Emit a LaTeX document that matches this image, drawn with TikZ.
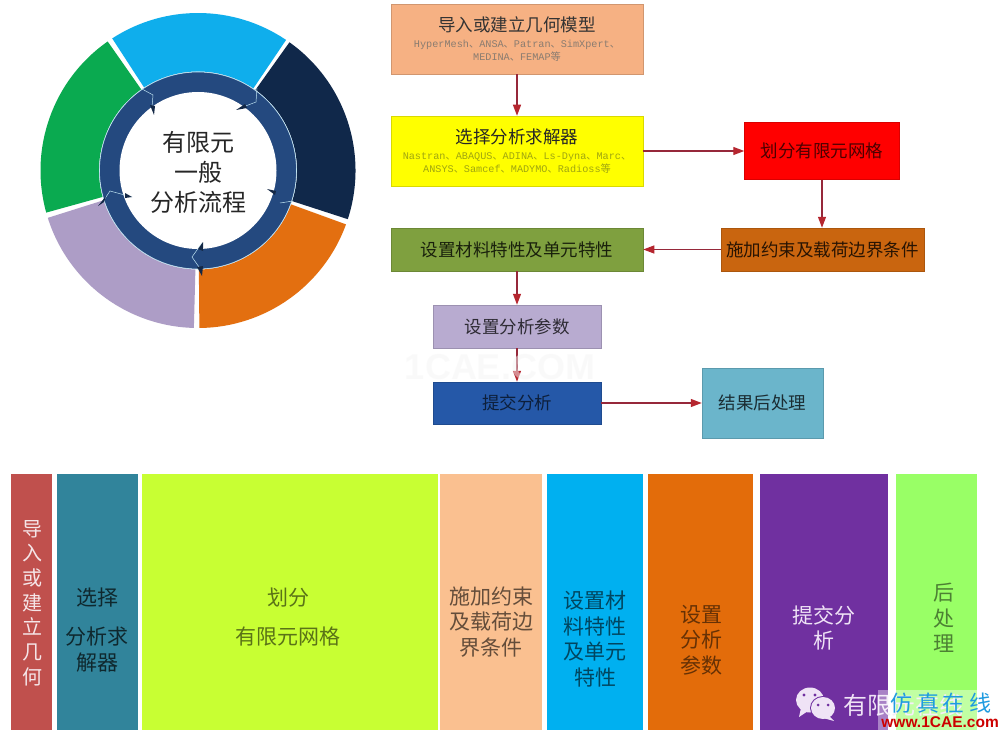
\documentclass[tikz,border=0pt]{standalone}
\usepackage{fontspec}
\setmainfont{Noto Sans CJK SC}
\newfontfamily\latinmono{Liberation Mono}
\newfontfamily\latinbold{Liberation Sans}
\usetikzlibrary{arrows.meta}
\definecolor{arrowred}{HTML}{96283A}
\definecolor{tipred}{HTML}{B5262F}
\definecolor{ringblue}{HTML}{24497F}
\definecolor{ringline}{HTML}{BFE3F2}
\definecolor{segblue}{HTML}{0FAEEC}
\definecolor{segnavy}{HTML}{10284A}
\definecolor{segorange}{HTML}{E36F10}
\definecolor{seglav}{HTML}{AD9DC6}
\definecolor{seggreen}{HTML}{0AAA50}
\definecolor{bxpeach}{HTML}{F6B183}
\definecolor{bxyellow}{HTML}{FFFF00}
\definecolor{bxred}{HTML}{FF0000}
\definecolor{bxorange}{HTML}{C9650F}
\definecolor{bxgreen}{HTML}{7FA03F}
\definecolor{bxlav}{HTML}{B8ABD0}
\definecolor{bxblue}{HTML}{2558A8}
\definecolor{bxteal}{HTML}{6BB5CB}
\definecolor{brred}{HTML}{C0504D}
\definecolor{brteal}{HTML}{31849B}
\definecolor{brlime}{HTML}{C8FF33}
\definecolor{brpeach}{HTML}{FAC090}
\definecolor{brcyan}{HTML}{00B0F0}
\definecolor{brorange}{HTML}{E36C0A}
\definecolor{brpurple}{HTML}{7030A0}
\definecolor{brgreen}{HTML}{99FF66}
\definecolor{wechat}{HTML}{EFE3F6}
\definecolor{subpeach}{HTML}{8A7C70}
\definecolor{subyellow}{HTML}{A0A610}
\definecolor{overblue}{HTML}{1E9BE0}
\newcommand{\dun}{{\rmfamily 、}}
\newcommand{\ml}[1]{{\latinmono #1}}
\newcommand{\subln}[2]{{\color{#1}\fontsize{10.2}{13}\selectfont #2}}
\newcommand{\segm}[3]{\fill[#3] (#1:157.5) arc[start angle=#1,end angle=#2,radius=157.5] -- (#2:99) arc[start angle=#2,end angle=#1,radius=99] -- cycle;}
\tikzset{
  flowbox/.style={draw=#1!85!black,line width=.5pt,fill=#1,inner sep=0pt,align=center,font=\fontsize{17.5}{22}\selectfont},
  barbox/.style={fill=#1,inner sep=0pt,minimum height=256pt},
  bartext/.style={inner sep=0pt,align=center,font=\fontsize{21}{25.5}\selectfont},
  link/.style={draw=arrowred,line width=1.2pt,-{Triangle[length=11pt,width=8pt,fill=tipred,color=tipred]}},
  chevron/.style={draw=ringline,line width=.5pt},
  chevtip/.style={fill=ringblue!55!black}
}
\begin{document}
\begin{tikzpicture}[x=1pt,y=1pt]
\useasboundingbox (0,-730) rectangle (1000,0);
\fill[white] (0,-730) rectangle (1000,0);
% ring diagram
\begin{scope}[shift={(198,-170.5)}]
\segm{56}{123}{segblue}
\segm{-18}{54.5}{segnavy}
\segm{-89.5}{-20}{segorange}
\segm{-162.5}{-91.5}{seglav}
\segm{125}{195.5}{seggreen}
\draw[ringline,line width=.6pt,fill=ringblue] (0,0) circle[radius=98.5];
\fill[white] (0,0) circle[radius=78.5];
\end{scope}
% ring arrows
\draw[chevron] (142,-89) -- (153,-95) -- (152,-107);
\fill[chevtip] (150,-105) -- (155,-106) -- (154,-115) -- cycle;
\draw[chevron] (257,-88) -- (256,-102) -- (243,-107);
\fill[chevtip] (245,-104) -- (247,-108) -- (236,-110) -- cycle;
\draw[chevron] (280,-203) -- (293,-201);
\fill[chevtip] (267,-189) -- (276,-191) -- (275,-195) -- cycle;
\draw[chevron] (202,-243) -- (192,-257) -- (199,-267);
\fill[chevtip] (198,-249) -- (203,-251) -- (203,-242) -- cycle;
\fill[chevtip] (197,-267) -- (203,-266) -- (202,-276) -- cycle;
\draw[chevron] (132,-197) -- (110,-191) -- (104,-200);
\fill[chevtip] (125,-193) -- (125,-198) -- (132,-197) -- cycle;
\fill[chevtip] (106,-196) -- (104,-202) -- (98,-206) -- cycle;
\node[inner sep=0pt,align=center,font=\fontsize{24}{30}\selectfont,text=black!85] (ctitle) at (198,-172) {有限元\\一般\\分析流程};
% flow chart boxes
\node[flowbox=bxpeach,minimum width=252pt,minimum height=70pt,text=black!80] (b1) at (517,-39)
  {导入或建立几何模型\\[-6pt]\subln{subpeach}{\ml{HyperMesh}\dun\ml{ANSA}\dun\ml{Patran}\dun\ml{SimXpert}\dun}\\[-9pt]\subln{subpeach}{\ml{MEDINA}\dun\ml{FEMAP}等}};
\node[flowbox=bxyellow,minimum width=252pt,minimum height=70pt,text=black!85] (b2) at (517,-151)
  {选择分析求解器\\[-6pt]\subln{subyellow}{\ml{Nastran}\dun\ml{ABAQUS}\dun\ml{ADINA}\dun\ml{Ls-Dyna}\dun\ml{Marc}\dun}\\[-9pt]\subln{subyellow}{\ml{ANSYS}\dun\ml{Samcef}\dun\ml{MADYMO}\dun\ml{Radioss}等}};
\node[flowbox=bxred,minimum width=155pt,minimum height=57pt,text=black!70!bxred] (b3) at (822,-151) {划分有限元网格};
\node[flowbox=bxorange,minimum width=203pt,minimum height=43pt,text=black!80!bxorange] (b4) at (822.5,-249.5) {施加约束及载荷边界条件};
\node[flowbox=bxgreen,minimum width=252pt,minimum height=43pt,text=black!80!bxgreen] (b5) at (517,-249.5) {设置材料特性及单元特性};
\node[flowbox=bxlav,minimum width=168pt,minimum height=43pt,text=black!75!bxlav] (b6) at (517,-326.5) {设置分析参数};
\node[flowbox=bxblue,minimum width=168pt,minimum height=42pt,text=black!65!bxblue] (b7) at (517,-403) {提交分析};
\node[flowbox=bxteal,minimum width=121pt,minimum height=70pt,text=black!75!bxteal] (b8) at (762.5,-403) {结果后处理};
% connectors
\draw[link] (b1.south) -- (b2.north);
\draw[link] (b2.east) -- (b3.west);
\draw[link] (b3.south) -- (b3.south |- b4.north);
\draw[link] (b4.west) -- (b5.east);
\draw[link] (b5.south) -- (b6.north);
\draw[link] (b6.south) -- (b7.north);
\draw[link] (b7.east) -- (b8.west);
% faint watermark
\node[inner sep=0pt,font=\latinbold\bfseries\fontsize{36}{36}\selectfont,text=black!4,opacity=.5] (wm) at (500,-367) {1CAE.COM};
% bottom bars
\node[barbox=brred,minimum width=41pt] (p1) at (31.5,-602) {};
\node[barbox=brteal,minimum width=81pt] (p2) at (97.5,-602) {};
\node[barbox=brlime,minimum width=296pt] (p3) at (290,-602) {};
\node[barbox=brpeach,minimum width=102pt] (p4) at (491,-602) {};
\node[barbox=brcyan,minimum width=96pt] (p5) at (595,-602) {};
\node[barbox=brorange,minimum width=105pt] (p6) at (700.5,-602) {};
\node[barbox=brpurple,minimum width=128pt] (p7) at (824,-602) {};
\node[barbox=brgreen,minimum width=81pt] (p8) at (936.5,-602) {};
\node[bartext,text=wechat!60!brred!30!white,font=\fontsize{20}{24.7}\selectfont] (t1) at (32,-603) {导\\入\\或\\建\\立\\几\\何};
\node[bartext,text=black!70!brteal] (t2) at (97,-630) {选择\\[14pt]分析求\\解器};
\node[bartext,text=black!55!brlime] (t3) at (288,-617) {划分\\[14pt]有限元网格};
\node[bartext,text=black!60!brpeach] (t4) at (491,-622) {施加约束\\及载荷边\\界条件};
\node[bartext,text=black!60!brcyan] (t5) at (595,-639) {设置材\\料特性\\及单元\\特性};
\node[bartext,text=black!55!brorange] (t6) at (701,-640) {设置\\分析\\参数};
\node[bartext,text=wechat] (t7) at (824,-628) {提交分\\析};
\node[bartext,text=black!50!brgreen] (t8) at (944,-618) {后\\处\\理};
% WeChat badge
\fill[wechat] (810,-700) ellipse[x radius=14,y radius=12.5];
\fill[wechat] (801,-708) -- (799,-717) -- (808,-711) -- cycle;
\fill[brpurple] (823,-708) ellipse[x radius=13,y radius=12];
\fill[wechat] (823,-708) ellipse[x radius=12,y radius=11];
\fill[wechat] (829,-716) -- (834,-721) -- (823,-718) -- cycle;
\fill[brpurple] (804,-695) circle[radius=1.6];
\fill[brpurple] (815,-695) circle[radius=1.6];
\fill[brpurple] (818,-705) circle[radius=1.5];
\fill[brpurple] (828,-705) circle[radius=1.5];
\node[inner sep=0pt,anchor=west,font=\fontsize{24}{24}\selectfont,text=wechat] (wt) at (843,-705) {有限元在线};
\fill[white,opacity=.4] (878,-730) rectangle (1000,-690);
\node[inner sep=0pt,anchor=west,font=\fontsize{22}{22}\selectfont,text=overblue] (f1) at (890,-703) {仿\hspace{5pt}真\hspace{3pt}在\hspace{5pt}线};
\node[inner sep=0pt,anchor=east,font=\latinbold\bfseries\fontsize{15.5}{16}\selectfont,text=red!80!black] (url) at (999,-722) {www.1CAE.com};
\end{tikzpicture}
\end{document}
